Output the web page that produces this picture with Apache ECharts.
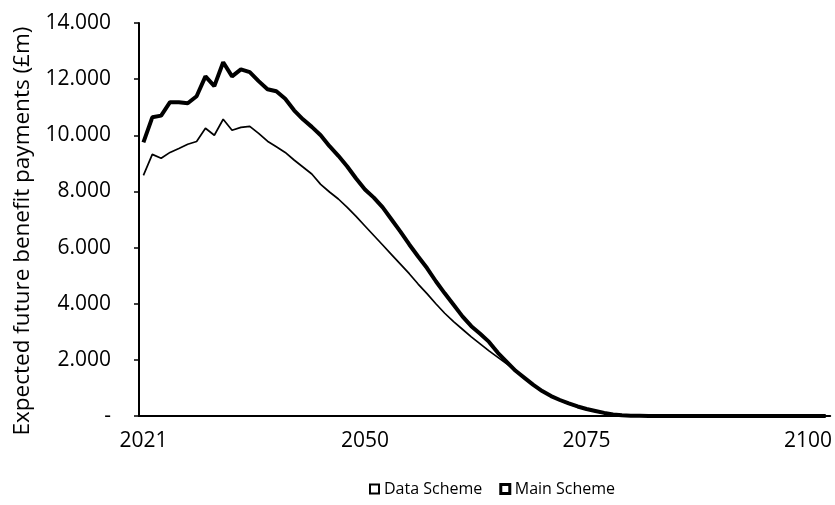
<!DOCTYPE html>
<html>
<head>
<meta charset="utf-8">
<script src="https://cdn.jsdelivr.net/npm/echarts@6/dist/echarts.min.js"></script>
<style>
html,body{margin:0;padding:0;background:#fff;}
#chart{width:835px;height:505px;}
</style>
</head>
<body>
<div id="chart"></div>
<script>
// Projection periods (one category per period)
const periods = Array.from({length: 78}, (_, i) => 'P' + i);
// Tick labels shown on the x axis and the period index where each sits
const tickLabels = ['2021', '2050', '2075', '2100'];
const tickIndex = [0, 25, 50, 75];
// Y axis tick values
const yTicks = [0, 2000, 4000, 6000, 8000, 10000, 12000, 14000];
const yTitle = 'Expected future benefit payments (£m)';

// Expected future benefit payments (£m)
const dataScheme = [
  9750, 10640, 10700, 11180, 11180, 11140, 11390, 12100, 11750, 12600,
  12100, 12350, 12250, 11930, 11640, 11570, 11300, 10890, 10570, 10300,
  10000, 9610, 9270, 8890, 8460, 8070, 7780, 7430, 7000, 6570,
  6110, 5680, 5270, 4800, 4370, 3960, 3550, 3200, 2930, 2640,
  2250, 1930, 1610, 1360, 1110, 890, 710, 570, 450, 340,
  250, 180, 110, 55, 25, 10, 5, 0, 0, 0,
  0, 0, 0, 0, 0, 0, 0, 0, 0, 0,
  0, 0, 0, 0, 0, 0, 0, 0
];
const mainScheme = [
  8570, 9320, 9180, 9390, 9530, 9680, 9780, 10250, 10000, 10570,
  10180, 10280, 10320, 10070, 9790, 9590, 9390, 9120, 8870, 8620,
  8250, 7980, 7730, 7430, 7110, 6770, 6430, 6090, 5750, 5410,
  5070, 4700, 4360, 4000, 3660, 3360, 3090, 2820, 2570, 2320,
  2090, 1860, 1610, 1340, 1090, 870, 700, 550, 430, 320,
  230, 160, 100, 50, 25, 10, 3, 0, 0, 0,
  0, 0, 0, 0, 0, 0, 0, 0, 0, 0,
  0, 0, 0, 0, 0, 0, 0, 0
];

function fmtThousands(v) {
  if (v === 0) return '-';
  const th = Math.floor(v / 1000);
  const rest = String(v % 1000).padStart(3, '0');
  return th + '.' + rest;
}

const font = '"Open Sans", "Noto Sans", sans-serif';
const chart = echarts.init(document.getElementById('chart'), null, {renderer: 'canvas'});
chart.setOption({
  animation: false,
  backgroundColor: '#ffffff',
  grid: {left: 139, right: 0, top: 23, bottom: 89, containLabel: false},
  graphic: [{
    type: 'text',
    x: 23, y: 231,
    rotation: Math.PI / 2,
    style: {
      text: yTitle,
      fontFamily: font, fontSize: 22.5, fill: '#000',
      align: 'center', verticalAlign: 'middle'
    }
  }],
  legend: {
    data: [
      {name: 'Data Scheme', icon: 'rect', itemStyle: {color: '#ffffff', borderColor: '#000', borderWidth: 2}},
      {name: 'Main Scheme', icon: 'rect', itemStyle: {color: '#ffffff', borderColor: '#000', borderWidth: 3}}
    ],
    left: 364, top: 476,
    itemWidth: 9, itemHeight: 9, itemGap: 17,
    textStyle: {fontFamily: font, fontSize: 16, color: '#000'}
  },
  xAxis: {
    type: 'category',
    data: periods,
    boundaryGap: true,
    axisLine: {show: true, lineStyle: {color: '#000', width: 2}},
    axisTick: {show: false},
    axisLabel: {
      interval: (idx) => tickIndex.includes(idx),
      formatter: (v, idx) => {
        const k = tickIndex.indexOf(idx);
        return k >= 0 ? tickLabels[k] : '';
      },
      margin: 15,
      fontFamily: font, fontSize: 21, color: '#000'
    },
    splitLine: {show: false}
  },
  yAxis: {
    type: 'value',
    min: yTicks[0], max: yTicks[yTicks.length - 1], interval: 2000,
    axisLine: {show: true, lineStyle: {color: '#000', width: 2}},
    axisTick: {show: true, length: 5, inside: false, lineStyle: {color: '#000', width: 1.5}},
    axisLabel: {
      formatter: fmtThousands,
      margin: 28,
      fontFamily: font, fontSize: 21, color: '#000'
    },
    splitLine: {show: false}
  },
  series: [
    {
      name: 'Data Scheme', type: 'line', data: dataScheme,
      showSymbol: false, symbol: 'none',
      lineStyle: {color: '#000', width: 4},
      itemStyle: {color: '#000'}
    },
    {
      name: 'Main Scheme', type: 'line', data: mainScheme,
      showSymbol: false, symbol: 'none',
      lineStyle: {color: '#000', width: 1.7},
      itemStyle: {color: '#000'}
    }
  ]
});
</script>
</body>
</html>
